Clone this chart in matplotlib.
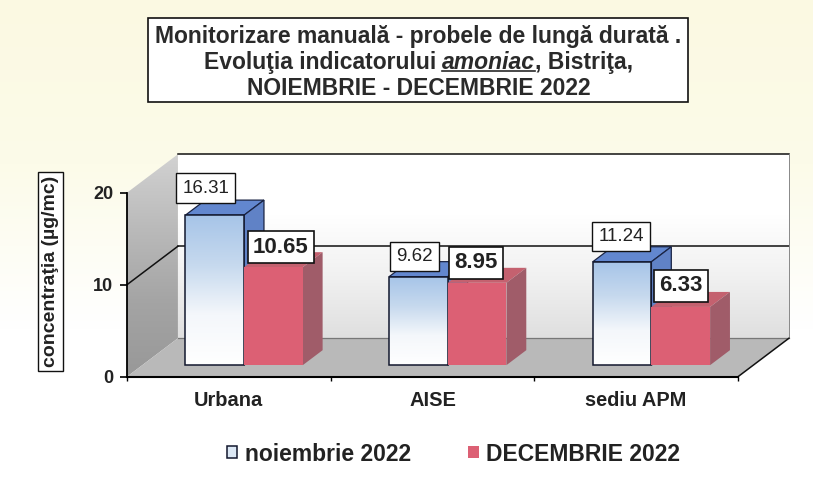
import numpy as np
import matplotlib
matplotlib.use('Agg')
import matplotlib.pyplot as plt
from matplotlib.colors import LinearSegmentedColormap
from matplotlib.patches import Patch, Polygon, Rectangle

plt.rcParams['font.family'] = ['Liberation Sans', 'DejaVu Sans']

# Valeurs
stations = ['Urbana', 'AISE', 'sediu APM']
nov_values = [16.31, 9.62, 11.24]
dec_values = [10.65, 8.95, 6.33]
y_ticks = [0, 10, 20]
series_names = ['noiembrie 2022', 'DECEMBRIE 2022']
y_label = 'concentraţia (µg/mc)'

W, H = 813, 494
fig = plt.figure(figsize=(W / 100, H / 100), dpi=100)

# Fond : creme en haut, blanc en bas
bg = fig.add_axes([0, 0, 1, 1], zorder=-1)
cmap_bg = LinearSegmentedColormap.from_list('bg', ['#fbf9e2', '#fcfbe9', '#ffffff', '#ffffff'])
bg.imshow(np.linspace(0, 1, 256).reshape(-1, 1), cmap=cmap_bg, aspect='auto', extent=[0, 1, 0, 1])
bg.axis('off')

ax = fig.add_axes([127 / W, 1 - 376.7 / H, (738 - 127) / W, (376.7 - 192.7) / H])
ax.patch.set_visible(False)

# Profondeur du faux 3D, en unites de donnees
DX = 0.25
DY = 4.18
BAR_D0 = 0.30
BAR_D1 = 0.69
BAR_W = 0.288
XMIN, XMAX = -0.5, 2.5
YMAX = y_ticks[-1]


def proj(x, y, d):
    return (x + d * DX, y + d * DY)


def gradient(poly_pts, colors, zorder):
    pts = np.array(poly_pts)
    cm = LinearSegmentedColormap.from_list('g', colors)
    im = ax.imshow(np.linspace(0, 1, 256).reshape(-1, 1), cmap=cm, aspect='auto', zorder=zorder,
                   extent=[pts[:, 0].min(), pts[:, 0].max(), pts[:, 1].min(), pts[:, 1].max()])
    clip = Polygon(pts, transform=ax.transData)
    im.set_clip_path(clip)
    im.set_clip_box(fig.bbox)


# Parois et sol
left_wall = [proj(XMIN, 0, 0), proj(XMIN, YMAX, 0), proj(XMIN, YMAX, 1), proj(XMIN, 0, 1)]
back_wall = [proj(XMIN, 0, 1), proj(XMIN, YMAX, 1), proj(XMAX, YMAX, 1), proj(XMAX, 0, 1)]
floor = [proj(XMIN, 0, 0), proj(XMAX, 0, 0), proj(XMAX, 0, 1), proj(XMIN, 0, 1)]
gradient(left_wall, ['#d2d2d2', '#bababa', '#a4a4a4', '#989898'], 1)
gradient(back_wall, ['#ffffff', '#ffffff', '#f1f1f1', '#dfdfdf'], 1)
ax.add_patch(Polygon(floor, facecolor='#b9b9b9', edgecolor='none', clip_on=False, zorder=1.2))

# Cadre et grille
for tick in y_ticks[1:]:
    a, b = proj(XMIN, tick, 0), proj(XMIN, tick, 1)
    c = proj(XMAX, tick, 1)
    if tick < YMAX:
        ax.plot([a[0], b[0]], [a[1], b[1]], color='#111111', lw=1.1, clip_on=False, zorder=1.5)
    ax.plot([b[0], c[0]], [b[1], c[1]], color='#111111', lw=1.1, clip_on=False, zorder=1.5)
ax.plot(*zip(proj(XMIN, 0, 1), proj(XMAX, 0, 1)), color='#777777', lw=0.9, clip_on=False, zorder=1.5)
ax.plot(*zip(proj(XMAX, 0, 1), proj(XMAX, YMAX, 1)), color='#888888', lw=0.7, clip_on=False, zorder=1.5)
ax.plot(*zip(proj(XMAX, 0, 0), proj(XMAX, 0, 1)), color='#111111', lw=1.1, clip_on=False, zorder=1.5)

# Barres
x = np.arange(len(stations))
base = BAR_D0 * DY
off = BAR_D0 * DX
depth = BAR_D1 - BAR_D0
ddx, ddy = depth * DX, depth * DY


def depth_faces(bar, top_color, side_color, edge, zorder):
    x0, x1 = bar.get_x(), bar.get_x() + bar.get_width()
    y0, y1 = bar.get_y(), bar.get_y() + bar.get_height()
    top = [(x0, y1), (x1, y1), (x1 + ddx, y1 + ddy), (x0 + ddx, y1 + ddy)]
    side = [(x1, y0), (x1, y1), (x1 + ddx, y1 + ddy), (x1 + ddx, y0 + ddy)]
    ax.add_patch(Polygon(top, facecolor=top_color, edgecolor=edge, lw=0.9, clip_on=False, zorder=zorder))
    ax.add_patch(Polygon(side, facecolor=side_color, edgecolor=edge, lw=0.9, clip_on=False, zorder=zorder))


bars_nov = ax.bar(x + off - BAR_W / 2, nov_values, BAR_W, bottom=base, facecolor='none',
                  edgecolor='#12182e', lw=1.1, zorder=3, clip_on=False)
bars_dec = ax.bar(x + off + BAR_W / 2, dec_values, BAR_W, bottom=base, color='#dc6074',
                  edgecolor='none', zorder=5, clip_on=False)

for bar in bars_nov:
    depth_faces(bar, '#6287cf', '#6082c6', '#1a2444', 2.5)
    x0, x1 = bar.get_x(), bar.get_x() + bar.get_width()
    y0, y1 = bar.get_y(), bar.get_y() + bar.get_height()
    gradient([(x0, y0), (x0, y1), (x1, y1), (x1, y0)], ['#a6c4e8', '#c6d9ee', '#f4f7fb', '#ffffff'], 2.8)
for bar in bars_dec:
    depth_faces(bar, '#c4616f', '#a05c69', 'none', 4.5)

# Etiquettes de valeurs
nov_offsets = [(-9, 27), (-4, 20), (-1, 25)]
dec_offsets = [(7.5, 20), (-1, 20), (0, 21)]
for bar, val, (ox, oy) in zip(bars_nov, nov_values, nov_offsets):
    ax.annotate(f'{val:.2f}', (bar.get_x() + bar.get_width() / 2, bar.get_y() + bar.get_height()),
                xytext=(ox * 0.72, oy * 0.72), textcoords='offset points', ha='center', va='center',
                fontsize=13.5, color='#222222', zorder=8,
                bbox=dict(boxstyle='square,pad=0.33', facecolor='white', edgecolor='#111111', lw=1))
for bar, val, (ox, oy) in zip(bars_dec, dec_values, dec_offsets):
    ax.annotate(f'{val:.2f}', (bar.get_x() + bar.get_width() / 2, bar.get_y() + bar.get_height()),
                xytext=(ox * 0.72, oy * 0.72), textcoords='offset points', ha='center', va='center',
                fontsize=16, fontweight='bold', color='#222222', zorder=8,
                bbox=dict(boxstyle='square,pad=0.24', facecolor='white', edgecolor='#111111', lw=1.2))

# Axes
ax.set_xlim(XMIN, XMAX)
ax.set_ylim(0, YMAX)
for side in ['top', 'right']:
    ax.spines[side].set_visible(False)
ax.spines['left'].set_linewidth(1.3)
ax.spines['bottom'].set_linewidth(1.5)
ax.set_yticks(y_ticks)
ax.set_yticklabels(y_ticks, fontsize=13, fontweight='bold', color='#222222')
ax.tick_params(axis='y', length=5, width=1.2, pad=5)
ax.set_xticks(x)
ax.set_xticklabels(stations, fontsize=14.4, fontweight='bold', color='#222222')
ax.set_xticks([XMIN, 0.5, 1.5, XMAX], minor=True)
ax.tick_params(axis='x', which='major', length=0, pad=10)
ax.tick_params(axis='x', which='minor', length=3, width=1)

# Titre de l'axe Y
fig.text(50.5 / W, 1 - 271.5 / H, y_label, rotation=90, ha='center', va='center', fontsize=14,
         fontweight='bold', color='#222222',
         bbox=dict(boxstyle='square,pad=0.2', facecolor='white', edgecolor='#111111', lw=1))

# Titre
fig.add_artist(Rectangle((148 / W, 1 - 102 / H), (688 - 148) / W, (102 - 18.5) / H, facecolor='white',
                         edgecolor='#111111', lw=1.2, transform=fig.transFigure))
title_style = dict(fontsize=16.45, fontweight='bold', color='#2a2a2a', va='baseline')
fig.text(418.5 / W, 1 - 42.5 / H, 'Monitorizare manuală - probele de lungă durată .', ha='center', **title_style)
fig.text(418.5 / W, 1 - 95 / H, 'NOIEMBRIE - DECEMBRIE 2022', ha='center', **title_style)

parts = [('Evoluţia indicatorului ', 'normal'), ('amoniac', 'italic'), (', Bistriţa,', 'normal')]
renderer = fig.canvas.get_renderer()
texts = [fig.text(0, 1 - 68.8 / H, s, style=st, ha='left', **title_style) for s, st in parts]
widths = [t.get_window_extent(renderer).width for t in texts]
px = 418.5 - sum(widths) / 2
for i, (t, w) in enumerate(zip(texts, widths)):
    t.set_x(px / W)
    if i == 1:
        fig.add_artist(plt.Line2D([px / W, (px + w) / W], [1 - 71.5 / H, 1 - 71.5 / H], color='#2a2a2a', lw=1.2))
    px += w

# Legende
handles = [Patch(facecolor='#dce8f5', edgecolor='#12182e', lw=1.1), Patch(facecolor='#dc6074', edgecolor='none')]
fig.legend(handles, series_names, ncol=2, loc='center', bbox_to_anchor=(453.5 / W, 1 - 454 / H), frameon=False,
           prop=dict(size=16.5, weight='bold'), labelcolor='#222222', handlelength=0.45, handleheight=0.45,
           handletextpad=0.32, columnspacing=2.5)

fig.savefig('out.png', dpi=100)
